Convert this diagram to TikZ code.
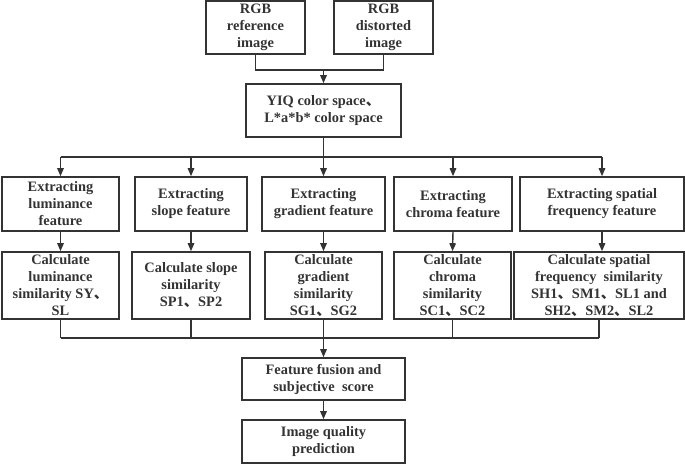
\documentclass[tikz,border=0pt]{standalone}
\usepackage{fontspec}
\setmainfont{Liberation Serif}
\newfontfamily\cjk{Noto Sans CJK SC}
\usetikzlibrary{arrows.meta}
\definecolor{ink}{HTML}{333333}
\newcommand{\dun}{{\cjk 、}}
\begin{document}
\begin{tikzpicture}[x=1pt,y=-1pt,
  box/.style={draw=ink,line width=1.6pt,text=ink,align=center,inner sep=1pt,
    font=\fontsize{14.4}{17}\selectfont\bfseries},
  ln/.style={draw=ink,line width=1.4pt},
  arr/.style={ln,-{Triangle[length=8pt,width=6.5pt]}}]
\useasboundingbox (0,0) rectangle (685,465);
\node[box,minimum width=99pt,minimum height=53pt] (ref) at (255.5,27.5) {RGB\\reference\\image};
\node[box,minimum width=99pt,minimum height=53pt] (dist) at (383.5,27.5) {RGB\\distorted\\image};
\node[box,minimum width=155pt,minimum height=53pt] (yiq) at (323.5,110.5) {YIQ color space\dun\\L*a*b* color space};
\node[box,minimum width=117pt,minimum height=54pt] (f1) at (60.5,204) {Extracting\\luminance\\feature};
\node[box,minimum width=112pt,minimum height=54pt] (f2) at (191,204) {Extracting\\slope feature};
\node[box,minimum width=123pt,minimum height=54pt] (f3) at (323.5,204) {Extracting\\gradient feature};
\node[box,minimum width=118pt,minimum height=54pt] (f4) at (453,204) {Extracting\\chroma feature};
\node[box,minimum width=164pt,minimum height=54pt] (f5) at (602,204) {Extracting spatial\\frequency feature};
\node[box,minimum width=117pt,minimum height=67pt] (c1) at (60.5,285.5) {Calculate\\luminance\\similarity SY\dun\\SL};
\node[box,minimum width=118pt,minimum height=67pt] (c2) at (191,285.5) {Calculate slope\\similarity\\SP1\dun SP2};
\node[box,minimum width=117pt,minimum height=67pt] (c3) at (323.5,285.5) {Calculate\\gradient\\similarity\\SG1\dun SG2};
\node[box,minimum width=117pt,minimum height=67pt] (c4) at (452.5,285.5) {Calculate\\chroma\\similarity\\SC1\dun SC2};
\node[box,minimum width=170pt,minimum height=67pt] (c5) at (599,285.5) {Calculate spatial\\frequency\ \ similarity\\SH1\dun SM1\dun SL1 and\\SH2\dun SM2\dun SL2};
\node[box,minimum width=163pt,minimum height=42pt] (fus) at (323.5,379) {Feature fusion and\\subjective\ \ score};
\node[box,minimum width=163pt,minimum height=43pt] (pred) at (323.5,441.5) {Image quality\\prediction};
\coordinate (j1) at (323.5,70);
\coordinate (j2) at (323.5,157);
\coordinate (j3) at (323.5,338);
\draw[ln] (ref.south) |- (j1) -| (dist.south);
\draw[arr] (j1) -- (yiq.north);
\draw[ln] (yiq.south) -- (j2);
\draw[ln] (f1.north |- j2) -- (f5.north |- j2);
\foreach \n in {f1,f2,f3,f4,f5} \draw[arr] (\n.north |- j2) -- (\n.north);
\draw[arr] (f1.south) -- (c1.north);
\draw[arr] (f2.south) -- (c2.north);
\draw[arr] (f3.south) -- (c3.north);
\draw[arr] (f4.south) -- (c4.north);
\draw[arr] (f5.south) -- (f5.south |- c5.north);
\foreach \n in {c1,c2,c3,c4,c5} \draw[ln] (\n.south) -- (\n.south |- j3);
\draw[ln] (c1.south |- j3) -- (c5.south |- j3);
\draw[arr] (j3) -- (fus.north);
\draw[arr] (fus.south) -- (pred.north);
\end{tikzpicture}
\end{document}
